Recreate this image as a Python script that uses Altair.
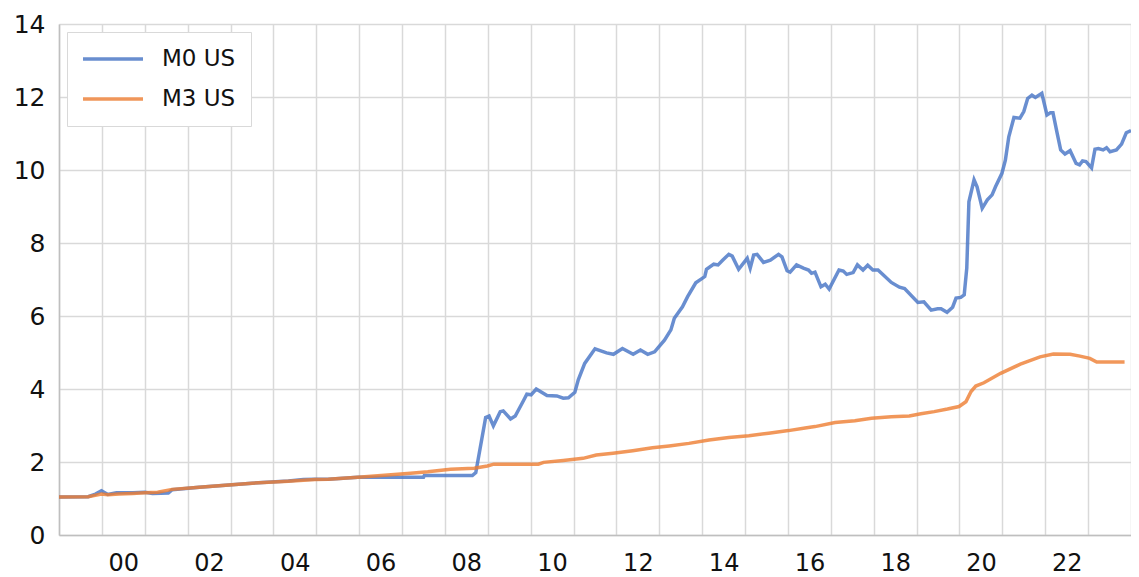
import altair as alt
import pandas as pd

# ---- data (fractional year, index level) ----
m0_t = [1999.00, 1999.68, 1999.85, 1999.99, 2000.14, 2000.34, 2000.72, 2001.00, 2001.18, 2001.55,
        2001.64, 2002.27, 2002.96, 2003.50, 2004.35, 2004.70, 2004.97, 2005.28, 2005.97, 2007.50,
        2007.52, 2008.64, 2008.72, 2008.95, 2009.03, 2009.13, 2009.29, 2009.36, 2009.53, 2009.64,
        2009.84, 2009.91, 2010.01, 2010.13, 2010.38, 2010.61, 2010.76, 2010.88, 2011.03, 2011.11,
        2011.26, 2011.50, 2011.77, 2011.93, 2012.14, 2012.39, 2012.56, 2012.73, 2012.89, 2013.12,
        2013.27, 2013.35, 2013.54, 2013.66, 2013.85, 2014.00, 2014.06, 2014.10, 2014.27, 2014.37,
        2014.47, 2014.62, 2014.70, 2014.85, 2015.05, 2015.12, 2015.20, 2015.28, 2015.43, 2015.59,
        2015.78, 2015.86, 2015.98, 2016.05, 2016.20, 2016.36, 2016.48, 2016.55, 2016.63, 2016.77,
        2016.87, 2016.96, 2017.19, 2017.29, 2017.37, 2017.52, 2017.62, 2017.75, 2017.86, 2017.98,
        2018.10, 2018.41, 2018.60, 2018.72, 2019.03, 2019.17, 2019.34, 2019.49, 2019.57, 2019.71,
        2019.84, 2019.92, 2020.03, 2020.11, 2020.17, 2020.22, 2020.34, 2020.41, 2020.53, 2020.65,
        2020.76, 2020.84, 2020.99, 2021.07, 2021.15, 2021.27, 2021.41, 2021.50, 2021.59, 2021.69,
        2021.77, 2021.92, 2022.04, 2022.12, 2022.18, 2022.27, 2022.36, 2022.46, 2022.58, 2022.72,
        2022.80, 2022.87, 2022.95, 2023.08, 2023.16, 2023.24, 2023.35, 2023.43, 2023.51, 2023.66,
        2023.78, 2023.89, 2024.00]
m0_v = [1.04, 1.05, 1.12, 1.21, 1.11, 1.16, 1.16, 1.17, 1.14, 1.15,
        1.24, 1.31, 1.37, 1.42, 1.48, 1.52, 1.53, 1.53, 1.58, 1.58,
        1.63, 1.63, 1.71, 3.22, 3.26, 2.99, 3.38, 3.40, 3.18, 3.26,
        3.70, 3.86, 3.84, 4.00, 3.82, 3.81, 3.75, 3.76, 3.91, 4.25,
        4.70, 5.10, 4.99, 4.95, 5.11, 4.95, 5.07, 4.95, 5.02, 5.34,
        5.62, 5.94, 6.25, 6.53, 6.91, 7.03, 7.08, 7.28, 7.42, 7.40,
        7.52, 7.69, 7.64, 7.28, 7.58, 7.31, 7.67, 7.69, 7.47, 7.53,
        7.69, 7.62, 7.24, 7.20, 7.40, 7.31, 7.26, 7.17, 7.20, 6.80,
        6.87, 6.74, 7.26, 7.23, 7.14, 7.19, 7.40, 7.26, 7.39, 7.26,
        7.26, 6.92, 6.79, 6.75, 6.37, 6.39, 6.16, 6.20, 6.20, 6.10,
        6.24, 6.49, 6.51, 6.58, 7.31, 9.13, 9.73, 9.54, 8.95, 9.18,
        9.32, 9.54, 9.91, 10.27, 10.91, 11.44, 11.42, 11.60, 11.96, 12.05,
        11.99, 12.10, 11.51, 11.57, 11.57, 11.05, 10.55, 10.44, 10.53, 10.18,
        10.14, 10.25, 10.23, 10.06, 10.57, 10.59, 10.55, 10.61, 10.50, 10.55,
        10.71, 11.02, 11.08]

m3_t = [1999.00, 1999.68, 1999.99, 2000.14, 2000.40, 2000.72, 2001.00, 2001.30, 2001.64, 2002.27,
        2002.96, 2003.50, 2004.35, 2004.97, 2005.28, 2005.97, 2006.59, 2007.20, 2007.60, 2008.13,
        2008.68, 2008.99, 2009.14, 2010.18, 2010.30, 2010.76, 2011.22, 2011.53, 2011.92, 2012.38,
        2012.84, 2013.23, 2013.69, 2014.16, 2014.62, 2015.09, 2015.55, 2016.01, 2016.40, 2016.63,
        2017.10, 2017.56, 2017.95, 2018.41, 2018.83, 2019.10, 2019.41, 2019.72, 2019.99, 2020.15,
        2020.27, 2020.38, 2020.57, 2020.96, 2021.42, 2021.88, 2022.19, 2022.58, 2022.81, 2023.04,
        2023.20, 2023.85]
m3_v = [1.04, 1.05, 1.12, 1.10, 1.12, 1.14, 1.16, 1.17, 1.25, 1.31,
        1.37, 1.42, 1.47, 1.52, 1.53, 1.58, 1.64, 1.69, 1.73, 1.80,
        1.83, 1.89, 1.94, 1.94, 1.99, 2.04, 2.10, 2.19, 2.24, 2.31,
        2.39, 2.44, 2.51, 2.60, 2.67, 2.72, 2.79, 2.86, 2.93, 2.97,
        3.08, 3.13, 3.20, 3.24, 3.26, 3.32, 3.38, 3.45, 3.52, 3.65,
        3.93, 4.08, 4.17, 4.43, 4.68, 4.88, 4.96, 4.95, 4.90, 4.84,
        4.74, 4.74]

series_names = ["M0 US", "M3 US"]
series_colors = ["#4472C4", "#ED7D31"]
x_grid_years = list(range(1999, 2025))
y_ticks = [0, 2, 4, 6, 8, 10, 12, 14]

df = pd.concat([
    pd.DataFrame({"t": m0_t, "v": m0_v, "s": series_names[0], "o": range(len(m0_t))}),
    pd.DataFrame({"t": m3_t, "v": m3_v, "s": series_names[1], "o": range(len(m3_t))}),
])

FONT = "DejaVu Sans"
PLOT_W = 1072

chart = alt.Chart(df).mark_line(strokeWidth=3.5, opacity=0.8).encode(
    x=alt.X("t:Q",
            scale=alt.Scale(domain=[1999, 2024], nice=False, zero=False),
            axis=alt.Axis(values=x_grid_years, title=None, ticks=False, grid=True,
                          labelExpr="datum.value % 2 == 0 && datum.value <= 2022 ? (datum.value % 100 < 10 ? '0' + (datum.value % 100) : '' + (datum.value % 100)) : ''",
                          labelOffset=PLOT_W / 25 / 2, labelPadding=16, labelFontSize=24,
                          labelFont=FONT, labelColor="#111111", labelFlush=False,
                          labelOverlap=False, domainColor="#BFBFBF", domainWidth=1.5,
                          gridColor="#D9D9D9", gridWidth=1.5)),
    y=alt.Y("v:Q",
            scale=alt.Scale(domain=[0, 14], nice=False),
            axis=alt.Axis(values=y_ticks, title=None, ticks=False, grid=True,
                          labelPadding=14, labelFontSize=25, labelFont=FONT,
                          labelColor="#111111", domainColor="#BFBFBF", domainWidth=1.5,
                          gridColor="#D9D9D9", gridWidth=1.5)),
    color=alt.Color("s:N",
                    scale=alt.Scale(domain=series_names, range=series_colors),
                    legend=alt.Legend(title=None, orient="none", legendX=8, legendY=8,
                                      symbolType="M-1.1,0H4.9", symbolSize=400,
                                      symbolStrokeWidth=3.5, symbolOpacity=0.8,
                                      labelFont=FONT, labelFontSize=23, labelColor="#111111",
                                      labelOffset=56, rowPadding=16, padding=15,
                                      strokeColor="#D9D9D9", fillColor="white")),
    order="o:Q",
).properties(
    width=PLOT_W, height=511,
    autosize=alt.AutoSizeParams(type="none"),
    padding={"left": 51, "top": 16, "right": 0, "bottom": 42},
).configure_view(stroke=None)

chart.save("out.html", embed_options={"renderer": "svg", "actions": False})
